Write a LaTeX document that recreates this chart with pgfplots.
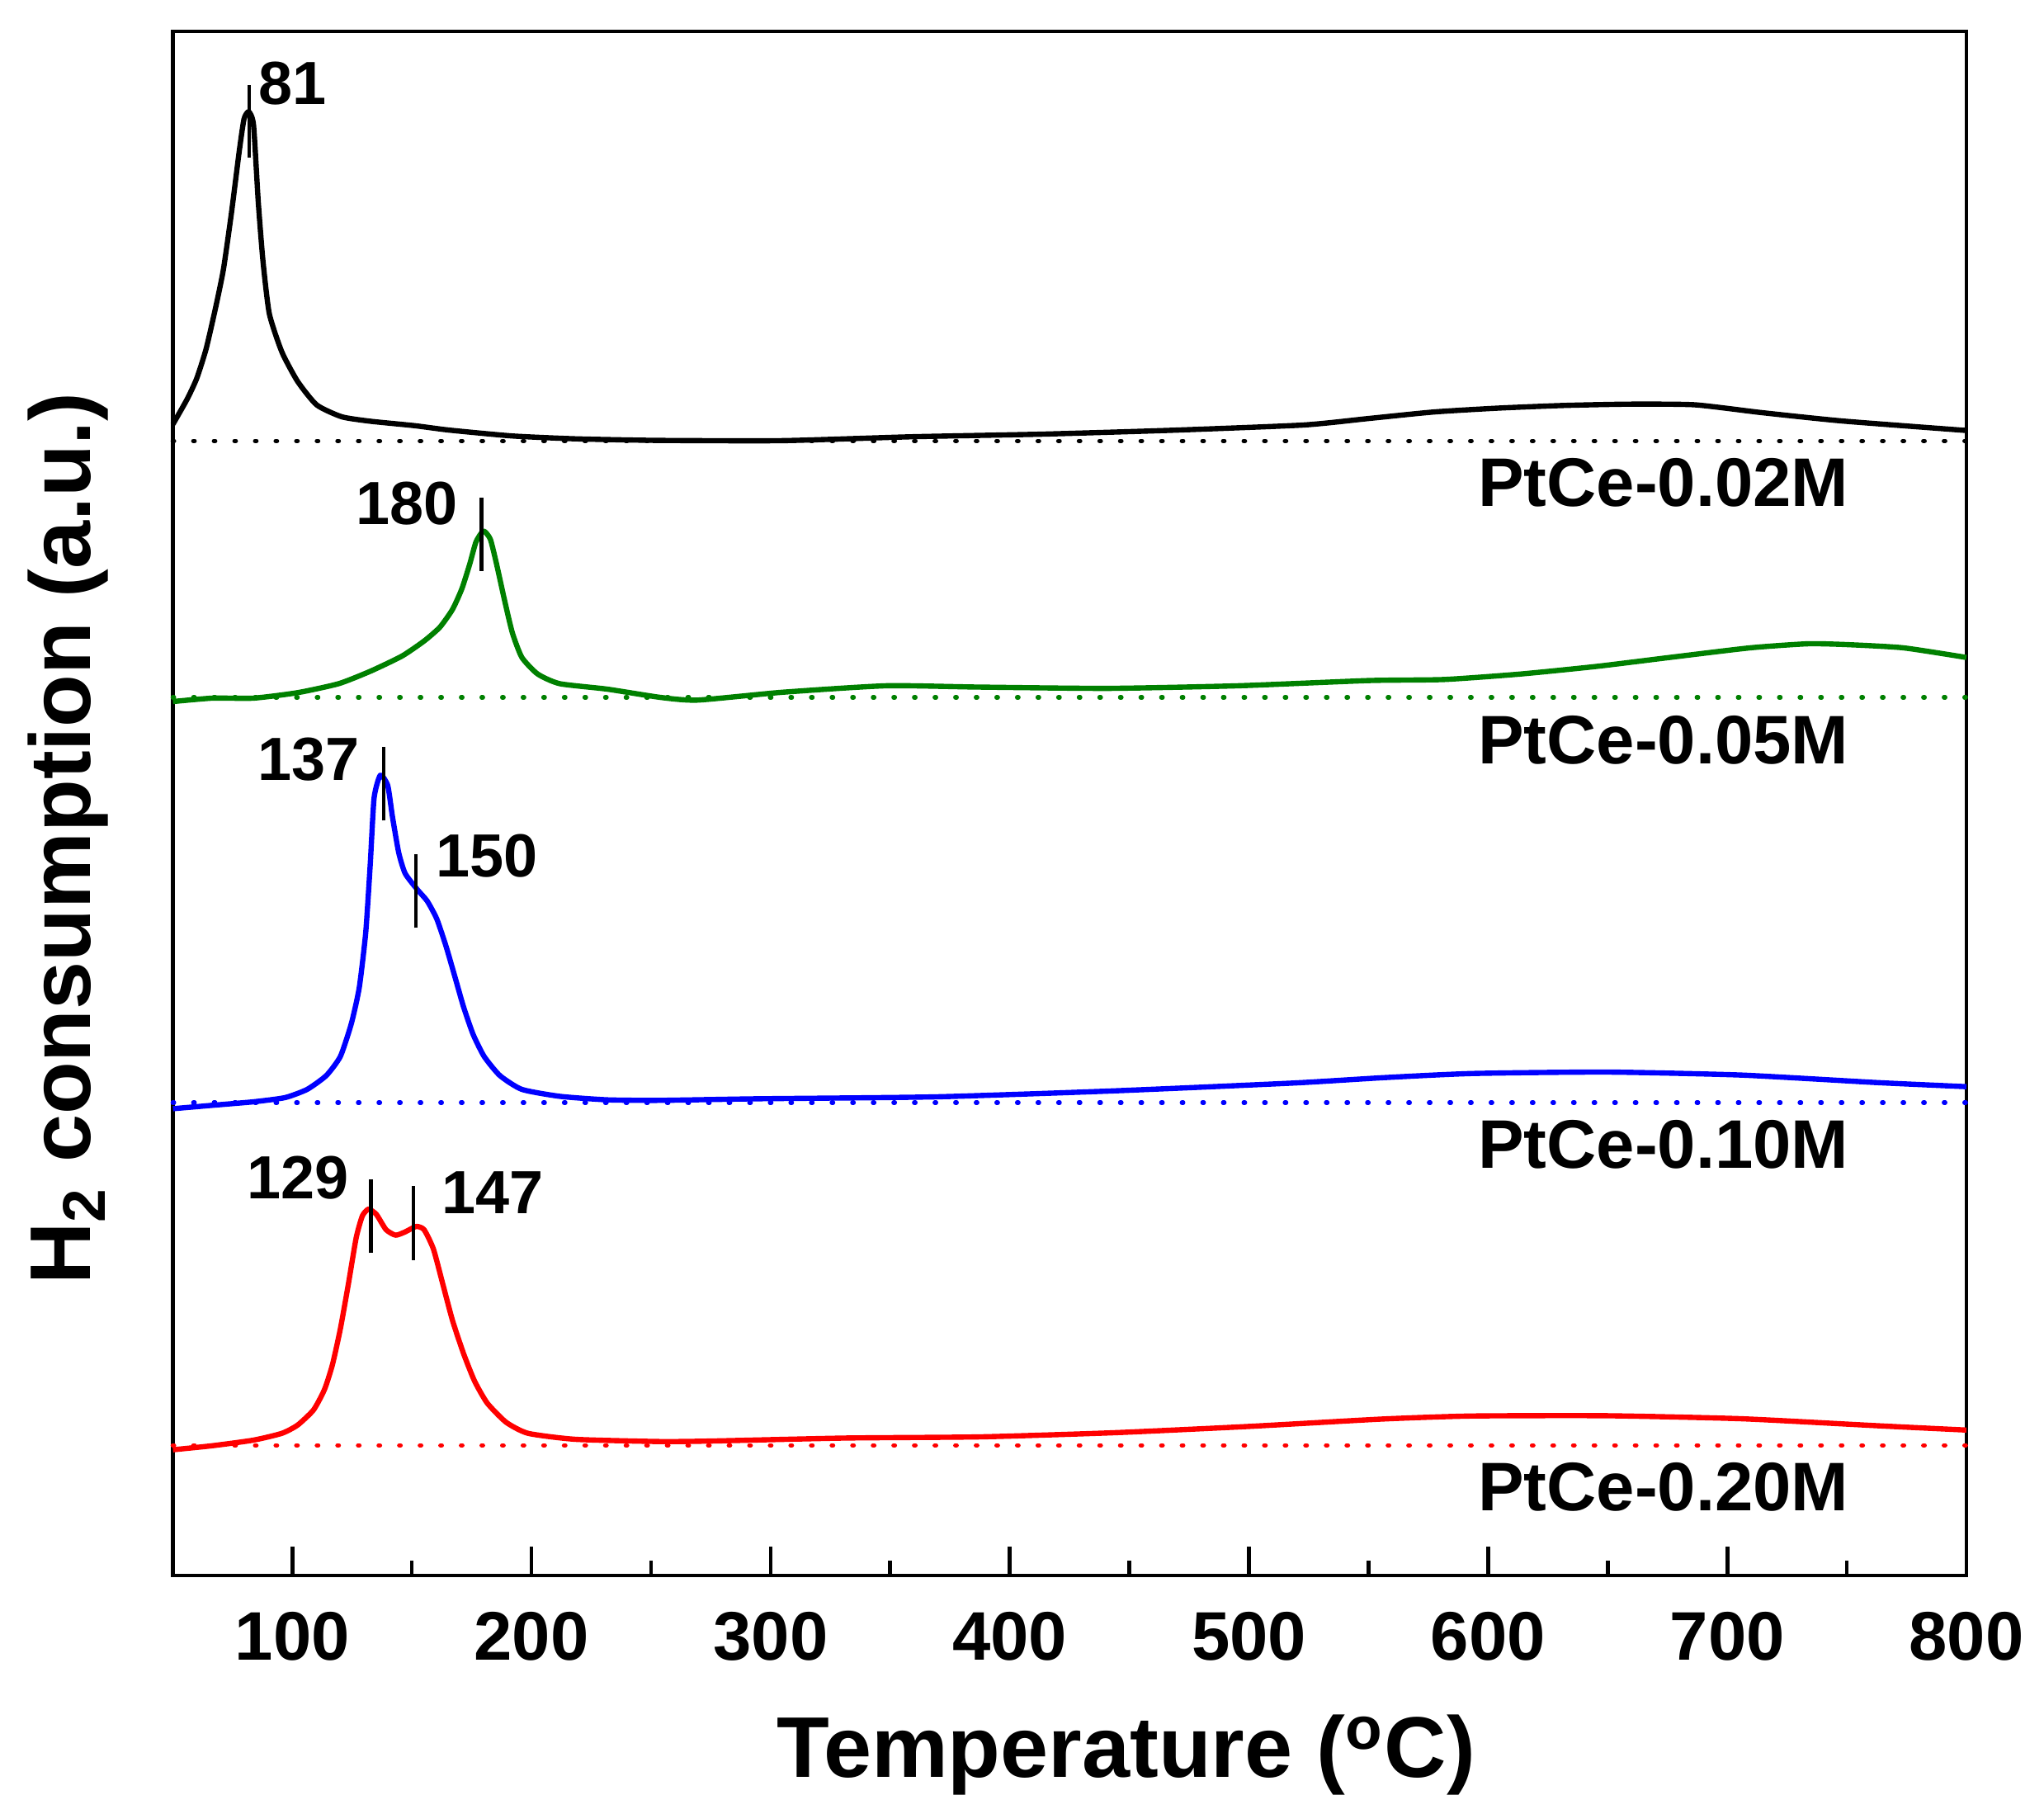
\documentclass[border=0pt]{standalone}
\usepackage{pgfplots}
\pgfplotsset{compat=1.18}
\usepackage{fontspec}
\setmainfont{Liberation Sans}
\definecolor{cgreen}{RGB}{0,128,0}
\definecolor{cblue}{RGB}{0,0,255}
\definecolor{cred}{RGB}{255,0,0}
\newcommand{\tickfont}{\bfseries\fontsize{15}{18}\selectfont}
\newcommand{\peakfont}{\bfseries\fontsize{13.3}{16}\selectfont}
\newcommand{\labfont}{\bfseries\fontsize{18.8}{22}\selectfont}
\begin{document}
\begin{tikzpicture}
\path[use as bounding box] (-1.325,-1.825) rectangle (14.355,12.085);
\begin{axis}[
  at={(0,0)}, anchor=south west,
  scale only axis, width=13.76cm, height=11.845cm,
  xmin=50, xmax=800, ymin=0, ymax=1184.5,
  xtick={100,200,...,800}, minor x tick num=1,
  ytick=\empty, xtick pos=bottom,
  tick align=inside,
  major tick length=0.22cm, minor tick length=0.116cm,
  axis line style={line width=0.85pt},
  tick style={line width=0.85pt, black},
  xticklabel style={font=\tickfont, inner sep=0pt, anchor=north, yshift=-0.275cm},
  /pgf/number format/assume math mode=true,
  clip=false,
  curve/.style={line width=1.15pt, line join=round, smooth, tension=0.35},
  base/.style={line width=0.95pt, line cap=round, dash pattern=on 0.01cm off 0.148cm},
]
% baselines
\addplot[black, base] coordinates {(50,870.3) (800,870.3)};
\addplot[cgreen, base] coordinates {(50,673.6) (800,673.6)};
\addplot[cblue, base] coordinates {(50,362.8) (800,362.8)};
\addplot[cred, base] coordinates {(50,99.9) (800,99.9)};
% PtCe-0.02M
\addplot[black, curve] coordinates {
(50.1,883.1) (56.05,902.4) (60.03,918.2) (63.95,940.8) (67.93,972.5) (71.2,1001.9) (74.53,1044.8) (77.8,1092.3) (79.81,1117.2) (81.78,1122.8) (83.79,1112.7) (85.76,1053.9) (87.72,1008.6) (90.39,967.9) (95.62,938.6) (102.2,916) (110.2,897.9) (120.7,888.8) (132.6,885.4) (151.1,882) (165.6,878.6) (192.0,874.1) (218.5,871.9) (252.8,870.7) (304.8,870.5) (359.3,873.5) (413.8,875.5) (468.3,878.5) (522.8,882.5) (550.1,887.5) (577.3,892.5) (604.6,895.5) (631.8,897.5) (659.1,898.5) (686.4,898) (714.4,892) (748,885.6) (800,878.3)};
% PtCe-0.05M
\addplot[cgreen, curve] coordinates {
(50.1,670.4) (66.57,673) (83.79,673) (102.2,677.2) (119.4,684.1) (132.6,693.6) (145.8,705.2) (155.1,716.8) (161.7,727.4) (167,741.1) (170.9,756.9) (174.2,775.9) (176.8,792.8) (179.9,801.2) (182.8,794.9) (185.4,775.9) (188.7,748.5) (192,723.2) (196,704.2) (202.6,691.5) (211.8,684.1) (231.7,679.9) (253.8,673.6) (269.4,671.5) (304.8,677.5) (348.4,682.5) (386.6,681.5) (441.1,680.5) (495.6,682.5) (550.1,686.5) (581.6,687.3) (613.6,691.5) (645.6,697.4) (677.6,704.6) (709.6,711.6) (733.6,714.7) (749.6,714.1) (773.6,711.6) (800,704.2)};
% PtCe-0.10M
\addplot[cblue, curve] coordinates {
(50.1,358.1) (66.57,360.7) (83.79,363.4) (96.93,366.6) (106.2,372.9) (114.2,383.5) (120.1,398.2) (124.7,423.5) (128,451) (130.7,493.2) (132.6,545.9) (134.2,596.5) (136.8,613.9) (139.9,606) (141.9,581.8) (144.5,554.4) (147.2,538.5) (152.4,525.9) (156.4,517.4) (160.4,503.7) (164.3,482.6) (168.3,457.3) (171.6,436.2) (175.6,415.1) (180.2,398.2) (186.8,383.5) (196,372.9) (211.8,367.6) (231.7,364.9) (253.8,364.5) (294.1,365.7) (369,367.2) (443.9,371.8) (518.7,377.8) (556.1,381.9) (593.5,385.1) (649.7,386.2) (705.8,383.9) (762,378.2) (800,375)};
% PtCe-0.20M
\addplot[cred, curve] coordinates {
(50.1,96.5) (66.57,99.6) (83.79,103.9) (95.62,109.1) (102.2,115.4) (108.9,127.1) (113.5,142.9) (116.8,161.9) (120.1,189.3) (123.4,223.1) (126.7,259) (129.3,275.9) (131.9,281.1) (135.2,276.9) (139.2,265.3) (143.2,261.1) (147.2,263.6) (151.8,267.8) (155.1,265.3) (159,250.5) (163,223.1) (167,195.6) (171.6,170.3) (176.2,149.2) (181.5,132.3) (189.4,117.6) (198.6,109.1) (218.5,104.5) (253.8,102.8) (275.4,103.2) (331.6,105.5) (387.7,106.4) (443.9,109.6) (500,114.4) (556.1,120.1) (593.5,122.4) (649.7,122.6) (705.8,120.3) (762,115) (800,111.6)};
% peak markers
\addplot[black, line width=0.75pt] coordinates {(82.05,1087.8) (82.05,1143.2)};
\addplot[black, line width=0.75pt] coordinates {(179.1,770.6) (179.1,827)};
\addplot[black, line width=0.75pt] coordinates {(138.1,579.1) (138.1,635.6)};
\addplot[black, line width=0.75pt] coordinates {(151.8,496.8) (151.8,553.3)};
\addplot[black, line width=0.75pt] coordinates {(132.9,247.3) (132.9,303.9)};
\addplot[black, line width=0.75pt] coordinates {(150.5,242.1) (150.5,298.6)};
% peak labels
\node[font=\peakfont, anchor=base, inner sep=0pt] at (axis cs:100.1,1128.5) {81};
\node[font=\peakfont, anchor=base, inner sep=0pt] at (axis cs:147.8,805.9) {180};
\node[font=\peakfont, anchor=base, inner sep=0pt] at (axis cs:106.7,609.7) {137};
\node[font=\peakfont, anchor=base, inner sep=0pt] at (axis cs:181.5,535.8) {150};
\node[font=\peakfont, anchor=base, inner sep=0pt] at (axis cs:102.5,288.9) {129};
\node[font=\peakfont, anchor=base, inner sep=0pt] at (axis cs:183.9,277.5) {147};
% sample labels
\node[font=\tickfont, anchor=base west, inner sep=0pt] at (axis cs:595.5,820.2) {PtCe-0.02M};
\node[font=\tickfont, anchor=base west, inner sep=0pt] at (axis cs:595.5,622.9) {PtCe-0.05M};
\node[font=\tickfont, anchor=base west, inner sep=0pt] at (axis cs:595.5,312.4) {PtCe-0.10M};
\node[font=\tickfont, anchor=base west, inner sep=0pt] at (axis cs:595.5,49.5) {PtCe-0.20M};
\end{axis}
\node[font=\labfont, anchor=base, inner sep=0pt] at (7.315,-1.55) {Temperature (\textsuperscript{o}C)};
\node[font=\labfont, anchor=base, inner sep=0pt, rotate=90] at (-0.629,5.653) {H\textsubscript{2} consumption (a.u.)};
\end{tikzpicture}
\end{document}
